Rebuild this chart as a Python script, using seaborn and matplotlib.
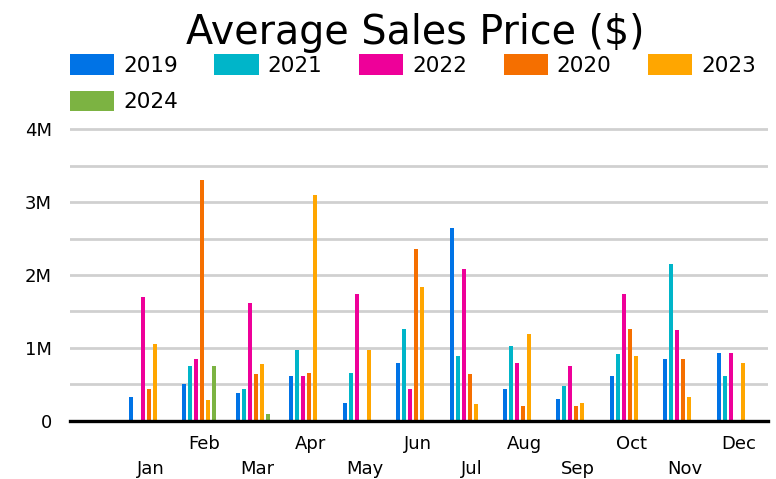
import numpy as np
import pandas as pd
import matplotlib
matplotlib.use('Agg')
import matplotlib.pyplot as plt
from matplotlib.patches import Patch
from matplotlib.ticker import FuncFormatter, MultipleLocator
import seaborn as sns

# Data (in dollars)
months = ['Jan', 'Feb', 'Mar', 'Apr', 'May', 'Jun',
          'Jul', 'Aug', 'Sep', 'Oct', 'Nov', 'Dec']
years = ['2019', '2021', '2022', '2020', '2023', '2024']

nan = np.nan
sales_2019 = [335000, 500000, 390000, 610000, 253000, 800000,
              2637000, 445000, 308000, 610000, 856000, 938000]
sales_2021 = [nan, 747000, 445000, 966000, 664000, 1267000,
              884000, 1021000, 473000, 911000, 2144000, 610000]
sales_2022 = [1705000, 856000, 1620000, 610000, 1733000, 445000,
              2089000, 800000, 747000, 1733000, 1240000, 938000]
sales_2020 = [445000, 3295000, 637000, 664000, nan, 2363000,
              637000, 199000, 199000, 1267000, 856000, nan]
sales_2023 = [1048000, 281000, 774000, 3100000, 966000, 1842000,
              226000, 1185000, 253000, 884000, 335000, 800000]
sales_2024 = [nan, 747000, 89000, nan, nan, nan,
              nan, nan, nan, nan, nan, nan]

colors = ['#0073e6', '#00b5c9', '#ee0099', '#f56f00', '#ffa600', '#7cb342']

series = [sales_2019, sales_2021, sales_2022, sales_2020, sales_2023, sales_2024]
rows = []
for year, vals in zip(years, series):
    for m, v in zip(months, vals):
        rows.append({'month': m, 'year': year, 'price': v})
df = pd.DataFrame(rows).dropna()

palette = dict(zip(years, colors))

fig = plt.figure(figsize=(7.76, 4.79), dpi=100)
ax = fig.add_axes([0.0902, 0.1211, 0.8995, 0.6172])

sns.barplot(data=df, x='month', y='price', hue='year', order=months,
            hue_order=years, palette=palette, width=0.673, gap=0.33,
            errorbar=None, saturation=1, legend=False, ax=ax)

ax.set_xlim(-1.42, 11.64)
ax.set_ylim(0, 4.05e6)

# gridlines every 0.5M, labels every 1M
ax.yaxis.set_major_locator(MultipleLocator(1e6))
ax.yaxis.set_minor_locator(MultipleLocator(5e5))
ax.yaxis.set_major_formatter(FuncFormatter(
    lambda v, p: '0' if v == 0 else f'{v / 1e6:.0f}M'))
ax.grid(axis='y', which='both', color='#d0d0d0', linewidth=2.0)
ax.set_axisbelow(True)
ax.tick_params(axis='y', which='both', length=0, pad=13, labelsize=13)

ax.set_xticks([i + 0.09 for i in range(12)])
ax.set_xticklabels([('\n' + m) if i % 2 == 0 else m
                    for i, m in enumerate(months)], linespacing=1.5)
ax.tick_params(axis='x', length=0, pad=10, labelsize=13)

ax.set_xlabel('')
ax.set_ylabel('')
for s in ['left', 'right', 'top']:
    ax.spines[s].set_visible(False)
ax.spines['bottom'].set_color('black')
ax.spines['bottom'].set_linewidth(2.4)
ax.spines['bottom'].set_zorder(5)

fig.text(0.535, 0.931, 'Average Sales Price ($)', ha='center', va='center',
         fontsize=28.5)

# legend, filled row-wise (2019 2021 2022 2020 2023 / 2024)
handles = [Patch(facecolor=c, edgecolor='none') for c in colors]
order = [0, 5, 1, 2, 3, 4]
fig.legend([handles[i] for i in order], [years[i] for i in order],
           ncol=5, loc='upper left', bbox_to_anchor=(0.09, 0.887),
           frameon=False, fontsize=15.5, handlelength=2.05, handleheight=1.12,
           handletextpad=0.42, columnspacing=1.7, labelspacing=0.68,
           borderaxespad=0, borderpad=0)

fig.savefig('out.png', dpi=100)
